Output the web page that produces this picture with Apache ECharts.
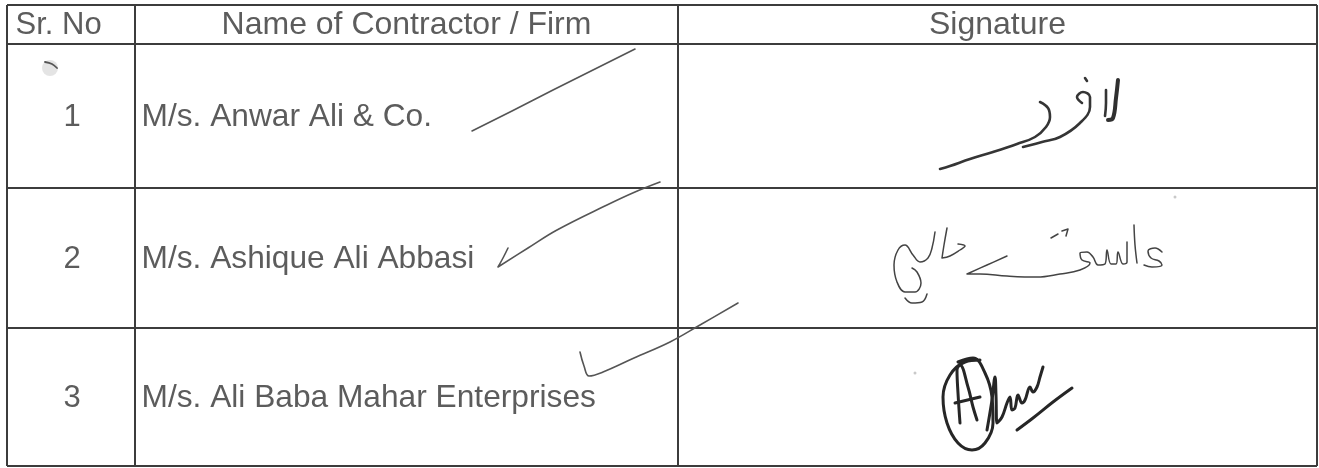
<!DOCTYPE html>
<html>
<head>
<meta charset="utf-8">
<script src="https://cdn.jsdelivr.net/npm/echarts@6/dist/echarts.min.js"></script>
<style>
html,body{margin:0;padding:0;background:#fff;}
#chart{width:1319px;height:468px;}
</style>
</head>
<body>
<div id="chart"></div>
<script>
// ---------- data ----------
const headers = ['Sr. No', 'Name of Contractor / Firm', 'Signature'];
const serialNumbers = ['1', '2', '3'];
const firmNames = ['M/s. Anwar Ali & Co.', 'M/s. Ashique Ali Abbasi', 'M/s. Ali Baba Mahar Enterprises'];

// hand-drawn check marks next to the firm names (ink points)
const checkMark1 = [[472,131],[512,111],[553,90],[595,69],[635,49]];
const checkMark2 = [[508,248],[503,258],[498,267],[528,248],[557,230],[607,205],[635,192],[660,182]];
const checkMark3 = [[580,352],[584,366],[589,376],[603,372],[634,358],[670,342],[700,325],[738,303]];

// signature 1 ink strokes
const sig1Tail = [[1040,102],[1048,108],[1050,117],[1046,127],[1035,137],[1017,144],[993,152],[970,159],[950,166],[940,169]];
const sig1Curve = [[1023,147],[1042,142],[1060,137],[1080,123],[1090,107],[1090,97],[1083,92],[1077,97],[1082,103]];
const sig1Dot = [[1085,78],[1087,81]];
const sig1AlifA = [[1106,90],[1106,103],[1105,116]];
const sig1AlifB = [[1118,80],[1116,98],[1113,118],[1108,120]];

// signature 2 ink strokes
const sig2Ain = [[1162,252],[1155,248],[1148,251],[1151,258],[1159,261],[1162,265],[1152,267],[1144,265]];
const sig2Alif = [[1134,225],[1135,245],[1137,263]];
const sig2Body = [[1127,242],[1127,262],[1123,264],[1118,252],[1116,264],[1111,264],[1107,250],[1105,264],[1098,265],[1093,257],[1087,252],[1080,253],[1082,260],[1090,263],[1080,270],[1060,274],[1037,277],[1007,276],[980,274],[967,274],[987,265],[1007,256]];
const sig2Dots1 = [[1051,238],[1058,234]];
const sig2Dots2 = [[1062,231],[1068,229],[1066,236]];
const sig2Ta = [[947,228],[944,245],[942,258],[950,256],[960,250],[965,246],[958,244]];
const sig2Loop = [[935,232],[932,248],[928,258],[920,262],[913,255],[905,245],[898,250],[894,265],[897,282],[905,292],[915,292],[921,283],[917,272],[912,268]];
const sig2Hook = [[905,298],[912,303],[922,302],[927,294]];

// signature 3 ink strokes
const sig3Oval = [[980,360],[965,362],[950,375],[943,397],[947,423],[958,443],[972,450],[985,443],[993,423],[992,397],[985,373],[973,358],[958,362]];
const sig3A = [[960,423],[958,393],[957,370],[960,365],[968,387],[973,407],[977,420]];
const sig3Bar = [[955,403],[980,397]];
const sig3Word = [[987,430],[992,400],[995,377],[996,395],[997,423],[1002,417],[1007,403],[1010,397],[1012,410],[1015,408],[1018,395],[1022,403],[1025,400],[1030,387],[1033,392],[1037,387],[1040,377],[1043,367]];
const sig3Under = [[1017,430],[1033,418],[1053,402],[1072,388]];

// stray marks on the scan
const strayDots = [[1175,197],[915,373]];

// ---------- layout ----------
const W = 1319, H = 468;
const colEdges = [7, 135, 678, 1317];
const rowEdges = [5, 44, 188, 328, 466];
const FONT = 'Liberation Sans, Arial, sans-serif';
const TEXT_COLOR = '#333333';
const RULE_COLOR = '#3c3c3c';

const series = [];

// table rules
function rule(p1, p2, w) {
  series.push({
    type: 'line', data: [p1, p2], symbol: 'none', silent: true,
    lineStyle: { color: RULE_COLOR, width: w }, z: 2
  });
}
rowEdges.forEach(function (y) {
  rule([colEdges[0], y], [colEdges[3], y], 2);
});
colEdges.forEach(function (x) {
  rule([x, rowEdges[0]], [x, rowEdges[rowEdges.length - 1]], 2);
});

// text labels
function textSeries(points, position, size) {
  series.push({
    type: 'scatter', symbolSize: 1, silent: true,
    itemStyle: { color: 'rgba(0,0,0,0)' },
    data: points,
    label: {
      show: true, position: position, distance: 0,
      formatter: function (p) { return p.value[2]; },
      color: TEXT_COLOR, fontFamily: FONT, fontSize: size
    },
    z: 5
  });
}
const headerMid = (rowEdges[0] + rowEdges[1]) / 2 + 1;
textSeries([[colEdges[0] + 8, headerMid, headers[0]]], 'right', 31);
textSeries([
  [(colEdges[1] + colEdges[2]) / 2, headerMid, headers[1]],
  [(colEdges[2] + colEdges[3]) / 2, headerMid, headers[2]]
], 'inside', 32);
textSeries(serialNumbers.map(function (s, i) {
  return [(colEdges[0] + colEdges[1]) / 2 + 1, (rowEdges[i + 1] + rowEdges[i + 2]) / 2 + 1, s];
}), 'inside', 31);
textSeries(firmNames.map(function (s, i) {
  return [colEdges[1] + 6, (rowEdges[i + 1] + rowEdges[i + 2]) / 2 + 1, s];
}), 'right', 31.7);

// ink strokes
function ink(pts, w, color) {
  series.push({
    type: 'line', data: pts, symbol: 'none', smooth: 0.4, silent: true,
    lineStyle: { color: color, width: w, cap: 'round', join: 'round' }, z: 4
  });
}
[checkMark1, checkMark2, checkMark3].forEach(function (s) { ink(s, 1.6, '#555'); });
[sig1Tail, sig1Curve, sig1Dot, sig1AlifA].forEach(function (s) { ink(s, 2.6, '#353535'); });
ink(sig1AlifB, 4, '#303030');
[sig2Ain, sig2Alif, sig2Body, sig2Dots1, sig2Dots2, sig2Ta, sig2Loop, sig2Hook].forEach(function (s) { ink(s, 1.5, '#444'); });
[sig3Oval, sig3A, sig3Bar, sig3Word, sig3Under].forEach(function (s) { ink(s, 3, '#262626'); });

series.push({
  type: 'scatter', data: strayDots, symbolSize: 3, silent: true,
  itemStyle: { color: '#bbb' }, z: 3
});
// smudge near the first serial number
series.push({
  type: 'scatter', data: [[50, 68]], symbolSize: 16, silent: true,
  itemStyle: { color: '#d8d8d8', opacity: 0.7 }, z: 3
});
ink([[45,62],[52,64],[57,68]], 1.8, '#555');

const chart = echarts.init(document.getElementById('chart'), null, { renderer: 'canvas' });
chart.setOption({
  animation: false,
  backgroundColor: '#ffffff',
  grid: { left: 0, right: 0, top: 0, bottom: 0 },
  xAxis: { type: 'value', min: 0, max: W, show: false },
  yAxis: { type: 'value', min: 0, max: H, inverse: true, show: false },
  series: series
});
</script>
</body>
</html>
